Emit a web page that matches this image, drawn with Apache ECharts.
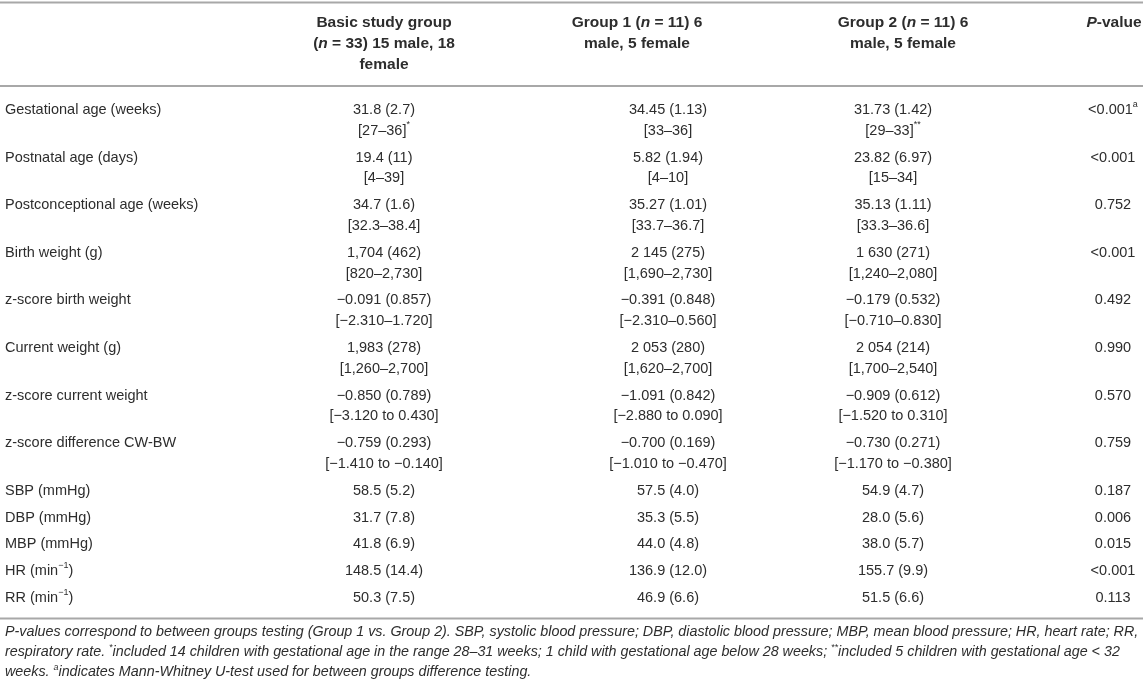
<!DOCTYPE html>
<html lang="en">
<head>
<meta charset="UTF-8">
<title>Study groups</title>
<script src="https://cdn.jsdelivr.net/npm/echarts@6/dist/echarts.min.js"></script>
<style>
  html, body { margin: 0; padding: 0; background: #fff; }
  #table { width: 1143px; height: 685px; }
</style>
</head>
<body>
<div id="table"></div>
<script>
// ---- table content ----
// {i|..} italic, {sup|..} superscript
const headers = [
  '',
  'Basic study group\n({i|n} = 33) 15 male, 18\nfemale',
  'Group 1 ({i|n} = 11) 6\nmale, 5 female',
  'Group 2 ({i|n} = 11) 6\nmale, 5 female',
  '{i|P}-value'
];

const rowLabels = [
  'Gestational age (weeks)',
  'Postnatal age (days)',
  'Postconceptional age (weeks)',
  'Birth weight (g)',
  'z-score birth weight',
  'Current weight (g)',
  'z-score current weight',
  'z-score difference CW-BW',
  'SBP (mmHg)',
  'DBP (mmHg)',
  'MBP (mmHg)',
  'HR (min{sup|−1})',
  'RR (min{sup|−1})'
];

const basicGroup = [
  '31.8 (2.7)\n[27–36]{sup|*}',
  '19.4 (11)\n[4–39]',
  '34.7 (1.6)\n[32.3–38.4]',
  '1,704 (462)\n[820–2,730]',
  '−0.091 (0.857)\n[−2.310–1.720]',
  '1,983 (278)\n[1,260–2,700]',
  '−0.850 (0.789)\n[−3.120 to 0.430]',
  '−0.759 (0.293)\n[−1.410 to −0.140]',
  '58.5 (5.2)',
  '31.7 (7.8)',
  '41.8 (6.9)',
  '148.5 (14.4)',
  '50.3 (7.5)'
];

const group1 = [
  '34.45 (1.13)\n[33–36]',
  '5.82 (1.94)\n[4–10]',
  '35.27 (1.01)\n[33.7–36.7]',
  '2 145 (275)\n[1,690–2,730]',
  '−0.391 (0.848)\n[−2.310–0.560]',
  '2 053 (280)\n[1,620–2,700]',
  '−1.091 (0.842)\n[−2.880 to 0.090]',
  '−0.700 (0.169)\n[−1.010 to −0.470]',
  '57.5 (4.0)',
  '35.3 (5.5)',
  '44.0 (4.8)',
  '136.9 (12.0)',
  '46.9 (6.6)'
];

const group2 = [
  '31.73 (1.42)\n[29–33]{sup|**}',
  '23.82 (6.97)\n[15–34]',
  '35.13 (1.11)\n[33.3–36.6]',
  '1 630 (271)\n[1,240–2,080]',
  '−0.179 (0.532)\n[−0.710–0.830]',
  '2 054 (214)\n[1,700–2,540]',
  '−0.909 (0.612)\n[−1.520 to 0.310]',
  '−0.730 (0.271)\n[−1.170 to −0.380]',
  '54.9 (4.7)',
  '28.0 (5.6)',
  '38.0 (5.7)',
  '155.7 (9.9)',
  '51.5 (6.6)'
];

const pValues = [
  '<0.001{sup|a}', '<0.001', '0.752', '<0.001', '0.492', '0.990', '0.570',
  '0.759', '0.187', '0.006', '0.015', '<0.001', '0.113'
];

const footnotes = [
  'P-values correspond to between groups testing (Group 1 vs. Group 2). SBP, systolic blood pressure; DBP, diastolic blood pressure; MBP, mean blood pressure; HR, heart rate; RR,',
  'respiratory rate. {sup|*}included 14 children with gestational age in the range 28–31 weeks; 1 child with gestational age below 28 weeks; {sup|**}included 5 children with gestational age < 32',
  'weeks. {sup|a}indicates Mann-Whitney U-test used for between groups difference testing.'
];

// ---- layout ----
const W = 1143, H = 685;
const FONT = '"Liberation Sans", Arial, Helvetica, sans-serif';
const INK = '#2d2d2d';
const RULE = '#a8a8a8';
const SIZE = 14.5, HEAD_SIZE = 15.5, FOOT_SIZE = 14.3;

const colX = [5, 384, 668, 893, 1113];
const headX = [5, 384, 637, 903, 1114];
const headY = 23, headLH = 21;
const firstRowY = 110, bodyLH = 20.8, rowGap = 26.8;

const columns = [rowLabels, basicGroup, group1, group2, pValues];

// row positions follow the number of lines in each row
const rowY = [];
let y = firstRowY;
basicGroup.forEach((txt) => {
  rowY.push(y);
  y += (txt.split('\n').length - 1) * bodyLH + rowGap;
});
const bottomRuleY = rowY[rowY.length - 1] + 20.5;
const footY = bottomRuleY + 14, footLH = 20;
const rules = [2.5, 86, bottomRuleY];

function tok(extra) {
  return Object.assign({ fontFamily: FONT, fontSize: SIZE, fontWeight: 'normal', fontStyle: 'normal', fill: INK }, extra);
}
const richHead = { i: tok({ fontSize: HEAD_SIZE, fontWeight: 'bold', fontStyle: 'italic', lineHeight: headLH }) };
const richBody = { sup: tok({ fontSize: 9, lineHeight: 13, verticalAlign: 'top' }) };
const richFoot = { sup: tok({ fontSize: 9, fontStyle: 'italic', lineHeight: 12, verticalAlign: 'top' }) };

// one entry per text block
const cells = [];
headers.forEach((t, c) => {
  if (t) cells.push({ x: headX[c], y: headY, text: t, align: 'center', size: HEAD_SIZE, weight: 'bold', style: 'normal', lh: headLH, rich: richHead });
});
columns.forEach((col, c) => {
  col.forEach((t, r) => {
    cells.push({ x: colX[c], y: rowY[r], text: t, align: c === 0 ? 'left' : 'center', size: SIZE, weight: 'normal', style: 'normal', lh: bodyLH, rich: richBody });
  });
});
footnotes.forEach((t, k) => {
  cells.push({ x: 5, y: footY + k * footLH, text: t, align: 'left', size: FOOT_SIZE, weight: 'normal', style: 'italic', lh: footLH, rich: richFoot });
});

const chart = echarts.init(document.getElementById('table'), null, { renderer: 'canvas' });
chart.setOption({
  animation: false,
  grid: { left: 0, right: 0, top: 0, bottom: 0 },
  xAxis: { type: 'value', min: 0, max: W, show: false },
  yAxis: { type: 'value', min: 0, max: H, inverse: true, show: false },
  series: [
    {
      type: 'custom',
      name: 'rules',
      silent: true,
      clip: false,
      encode: { x: 0, y: 1 },
      data: rules.map(v => [0, v]),
      renderItem: function (params, api) {
        const a = api.coord([0, api.value(1)]);
        const b = api.coord([W, api.value(1)]);
        return { type: 'line', shape: { x1: a[0], y1: a[1], x2: b[0], y2: b[1] }, style: { stroke: RULE, lineWidth: 2 } };
      }
    },
    {
      type: 'custom',
      name: 'cells',
      silent: true,
      clip: false,
      encode: { x: 0, y: 1 },
      data: cells.map(c => [c.x, c.y]),
      renderItem: function (params, api) {
        const cell = cells[params.dataIndex];
        const p = api.coord([api.value(0), api.value(1)]);
        return {
          type: 'text',
          x: p[0],
          y: p[1] - cell.lh / 2,
          style: {
            text: cell.text,
            rich: cell.rich,
            fill: INK,
            fontFamily: FONT,
            fontSize: cell.size,
            fontWeight: cell.weight,
            fontStyle: cell.style,
            align: cell.align,
            verticalAlign: 'top',
            lineHeight: cell.lh
          }
        };
      }
    }
  ]
});
</script>
</body>
</html>
